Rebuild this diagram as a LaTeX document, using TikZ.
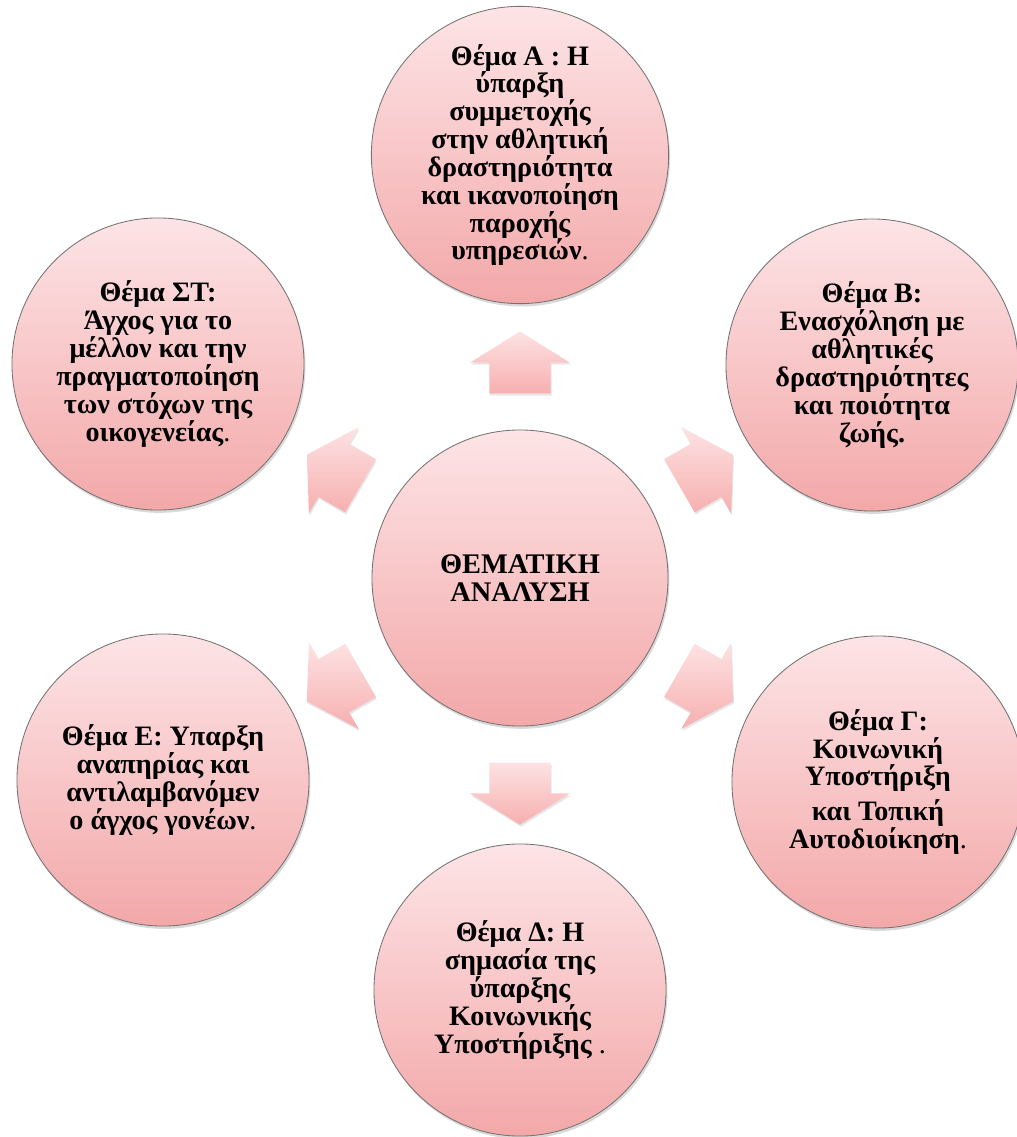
\documentclass[tikz,border=0pt]{standalone}
\usepackage{fontspec}
\setmainfont{Liberation Serif}
\usepackage{xcolor}
\usepackage{tikz}
\usetikzlibrary{shapes.arrows,shadows}

\definecolor{pinktop}{HTML}{FDE4E6}
\definecolor{pinkbot}{HTML}{F3A8A9}
\definecolor{arrtop}{HTML}{FDE2E3}
\definecolor{arrbot}{HTML}{F7AFAF}

\begin{document}
\begin{tikzpicture}[x=0.025cm, y=-0.025cm,
  theme/.style={circle,draw=black!55,line width=0.6pt,minimum size=7.3cm,inner sep=0pt,
    top color=pinktop,bottom color=pinkbot,align=center,
    font=\bfseries\fontsize{20}{19.8}\selectfont,
    drop shadow={shadow xshift=1pt,shadow yshift=-2pt,opacity=0.3}},
  hub/.style={theme,minimum size=7.4cm,font=\bfseries\fontsize{20.2}{19.8}\selectfont},
  blockarrow/.style={single arrow,minimum height=1.55cm,minimum width=2.48cm,
    inner xsep=0pt,inner ysep=0.76cm,
    single arrow head extend=0.48cm,single arrow tip angle=116,
    draw=none,top color=arrtop,bottom color=arrbot,rotate=#1,
    drop shadow={shadow xshift=0.6pt,shadow yshift=-1.5pt,opacity=0.2}}]
\useasboundingbox (0,0) rectangle (1017,1137);

% centre
\node (hub) [hub] at (520,578) {ΘΕΜΑΤΙΚΗ\\ΑΝΑΛΥΣΗ};

% themes
\node (thA) [theme] at (520,155) {Θέμα Α : Η\\ύπαρξη\\συμμετοχής\\στην αθλητική\\δραστηριότητα\\και ικανοποίηση\\παροχής\\υπηρεσιών\textmd{.}};
\node (thB) [theme] at (872,365) {Θέμα Β:\\Ενασχόληση με\\αθλητικές\\δραστηριότητες\\και ποιότητα\\ζωής.};
\node (thG) [theme] at (878,782) {Θέμα Γ:\\Κοινωνική\\Υποστήριξη\\[5pt]και Τοπική\\Αυτοδιοίκηση\textmd{.}};
\node (thD) [theme] at (520,990) {Θέμα Δ: Η\\σημασία της\\ύπαρξης\\Κοινωνικής\\Υποστήριξης\textmd{ .}};
\node (thE) [theme] at (163,780) {Θέμα Ε: Υπαρξη\\αναπηρίας και\\αντιλαμβανόμεν\\ο άγχος γονέων\textmd{.}};
\node (thST) [theme] at (158,364) {Θέμα ΣΤ:\\Άγχος για το\\μέλλον και την\\πραγματοποίηση\\των στόχων της\\οικογενείας\textmd{.}};

% arrows out of the centre
\node (arA) [blockarrow=90] at (520,372) {};
\node (arB) [blockarrow=30] at (698,475) {};
\node (arG) [blockarrow=-30] at (698,681) {};
\node (arD) [blockarrow=-90] at (520,784) {};
\node (arE) [blockarrow=210] at (342,681) {};
\node (arST) [blockarrow=150] at (342,475) {};
\end{tikzpicture}
\end{document}
